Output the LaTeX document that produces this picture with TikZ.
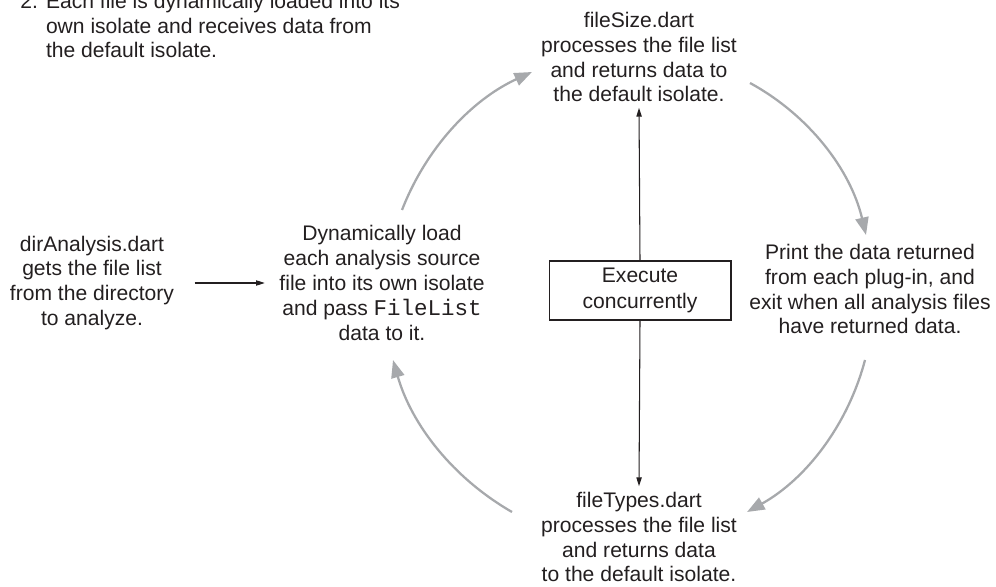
\documentclass[tikz,border=0pt]{standalone}
\usepackage{fontspec}
\setmainfont{Liberation Sans}
\setmonofont{Liberation Mono}
\usetikzlibrary{arrows.meta, positioning, calc}
\definecolor{cycleGray}{RGB}{167,169,172}
\definecolor{inkBlack}{RGB}{35,31,32}

\begin{document}
\begin{tikzpicture}[
    x=0.02cm, y=-0.02cm,
    % Define styles
    textblock/.style={
        align=center,
        font=\fontsize{12}{14.2}\selectfont,
        text=inkBlack,
        inner sep=3pt
    },
    execbox/.style={
        draw=inkBlack,
        line width=0.6pt,
        minimum width=3.64cm,
        minimum height=1.18cm,
        align=center,
        font=\fontsize{12}{14.8}\selectfont,
        text=inkBlack
    },
    arrow/.style={
        -{Triangle[length=5pt,width=3pt]},
        line width=0.6pt,
        inkBlack
    },
    cyclearrow/.style={
        -{Triangle[length=10pt,width=7.5pt]},
        line width=1.3pt,
        cycleGray,
        looseness=0.9
    }
]

% frame of the page (note at top is cut off)
\useasboundingbox (0,0) rectangle (996,587);
\clip (0,0) rectangle (996,587);

% ============================================================
% Step note (top left)
% ============================================================
\node[textblock, anchor=base west, inner sep=0pt] (note) at (20,58) {%
    \begin{tabular}[b]{@{}l@{\hspace{4.6pt}}l@{}}
    2. & Each file is dynamically loaded into its\\
       & own isolate and receives data from\\
       & the default isolate.
    \end{tabular}};

% ============================================================
% Main flow
% ============================================================
\node[textblock] (dir) at (92,283) {dirAnalysis.dart\\gets the file list\\from the directory\\to analyze.};
\node[textblock] (load) at (382,283) {Dynamically load\\each analysis source\\file into its own isolate\\and pass {\fontsize{12.8}{14.2}\selectfont\ttfamily FileList}\\data to it.};

% Plug-ins running in their own isolates
\node[textblock] (size) at (639,57) {fileSize.dart\\processes the file list\\and returns data to\\the default isolate.};
\node[textblock] (types) at (639,537) {fileTypes.dart\\processes the file list\\and returns data\\to the default isolate.};
\node[textblock] (print) at (870,289) {Print the data returned\\from each plug-in, and\\exit when all analysis files\\have returned data.};

\node[execbox] (exec) at (640,290.5) {Execute\\concurrently};

% ============================================================
% Connections
% ============================================================
\draw[arrow, shorten <=0.3cm, shorten >=0.18cm] (dir.east) -- (load.west);
\draw[arrow] (exec.north) -- (size.south);
\draw[arrow] (exec.south) -- (types.north);

% Cycle round the centre
\coordinate (loadOut) at (402,210);
\coordinate (sizeIn) at (532,72);
\coordinate (sizeOut) at (750,83);
\coordinate (printIn) at (866,235);
\coordinate (printOut) at (865,360);
\coordinate (typesIn) at (747,512);
\coordinate (typesOut) at (512,512);
\coordinate (loadIn) at (393,360);

\draw[cyclearrow] (loadOut) to[bend left=22] (sizeIn);
\draw[cyclearrow] (sizeOut) to[bend left=24] (printIn);
\draw[cyclearrow] (printOut) to[bend left=23] (typesIn);
\draw[cyclearrow] (typesOut) to[bend left=22] (loadIn);

\end{tikzpicture}
\end{document}
